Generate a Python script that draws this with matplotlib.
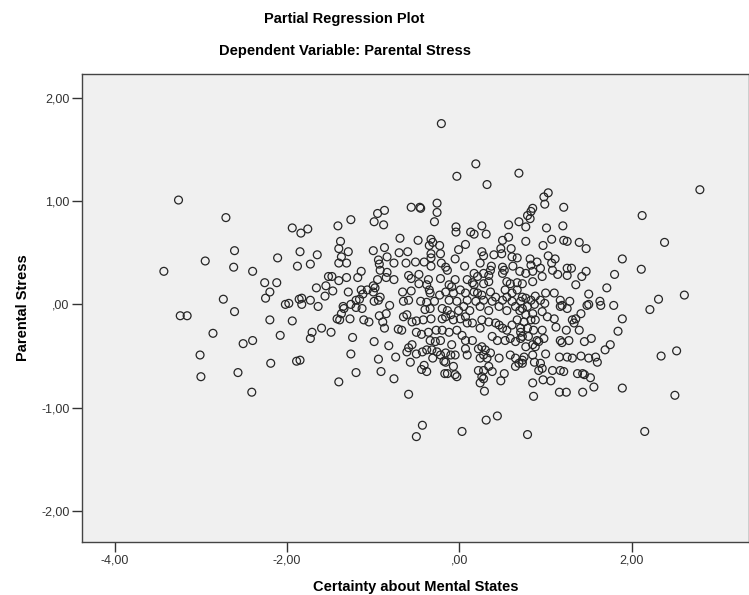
import matplotlib
matplotlib.use("Agg")
import matplotlib.pyplot as plt
from matplotlib.ticker import FuncFormatter

plt.rcParams["font.family"] = ["Liberation Sans", "DejaVu Sans"]

# partial residuals (x: certainty, y: parental stress)
left_x = [-3.26, -2.71, -2.61, -2.95, -2.62, -2.40, -2.11, -3.43, -2.26, -2.12, -2.20, -2.25, -2.74, -2.02,
          -3.24, -3.16, -2.61, -2.20, -2.86, -2.40, -2.51, -2.08, -3.01, -2.19, -2.57, -3.00, -2.41]
left_y = [1.01, 0.84, 0.52, 0.42, 0.36, 0.32, 0.45, 0.32, 0.21, 0.21, 0.12, 0.06, 0.05, 0.00,
          -0.11, -0.11, -0.07, -0.15, -0.28, -0.35, -0.38, -0.30, -0.49, -0.57, -0.66, -0.70, -0.85]

midleft_x = [-1.94, -1.84, -1.76, -1.41, -1.26, -1.38, -1.40, -1.29, -1.37, -1.40, -1.31, -1.85, -1.65, -1.88,
             -1.73, -1.52, -1.48, -1.40, -1.31, -1.18, -1.14, -1.55, -1.66, -1.47, -1.56, -1.29, -1.14, -1.12,
             -1.98, -1.86, -1.83, -1.83, -1.73, -1.64, -1.35, -1.26, -1.20, -1.16,
             -1.94, -1.71, -1.73, -1.60, -1.49, -1.42, -1.39, -1.37, -1.34, -1.27, -1.20, -1.13, -1.11, -1.24,
             -1.26, -1.20, -1.40, -1.89, -1.85]
midleft_y = [0.74, 0.69, 0.73, 0.76, 0.82, 0.61, 0.54, 0.51, 0.46, 0.40, 0.40, 0.51, 0.48, 0.37,
             0.39, 0.27, 0.27, 0.23, 0.26, 0.26, 0.32, 0.18, 0.16, 0.13, 0.08, 0.12, 0.14, 0.10,
             0.01, 0.05, 0.06, 0.00, 0.04, -0.02, -0.02, 0.00, 0.04, 0.05,
             -0.16, -0.27, -0.33, -0.23, -0.27, -0.14, -0.15, -0.09, -0.04, -0.14, -0.03, -0.04, -0.15, -0.32,
             -0.48, -0.66, -0.75, -0.55, -0.54]

center_x = [-0.21, -0.95, -0.87, -0.99, -0.88, -0.56, -0.46, -0.45, -0.26, -0.26, -0.29, -0.69, -0.48, -0.33,
            -0.31, -1.00, -0.87, -0.70, -0.60, -0.35, -0.23, -0.33, -0.22, -0.94, -0.84, -0.93, -0.76, -0.62,
            -0.51, -0.41, -0.33, -0.33, -0.21, -0.92, -0.84, -0.85, -0.76, -0.95, -1.00, -0.98, -0.59, -0.56,
            -0.47, -0.36, -0.22, -0.47, -0.38, -1.07, -1.00, -0.92, -0.66, -0.56, -0.35, -0.34, -0.23, -0.65,
            -0.59, -0.99, -0.94, -0.81, -0.45, -0.38, -0.29,
            -0.40, -0.34, -0.20, -1.05, -0.93, -0.85, -0.89, -0.87, -0.71, -0.67, -0.65, -0.61, -0.55, -0.50,
            -0.42, -0.33, -0.20, -0.50, -0.44, -0.36, -0.27, -0.99, -0.82, -0.34, -0.28, -0.22, -0.55, -0.59,
            -0.61, -0.50, -0.43, -0.38, -0.32, -0.26, -0.22, -0.94, -0.74, -0.57, -0.31, -0.18, -0.41, -0.44,
            -0.38, -0.91, -0.76, -0.17, -0.59, -0.43, -0.50]
center_y = [1.75, 0.88, 0.91, 0.80, 0.77, 0.94, 0.94, 0.93, 0.98, 0.89, 0.80, 0.64, 0.62, 0.63,
            0.60, 0.52, 0.55, 0.50, 0.51, 0.57, 0.57, 0.49, 0.49, 0.43, 0.46, 0.39, 0.40, 0.40,
            0.41, 0.41, 0.45, 0.37, 0.40, 0.33, 0.31, 0.26, 0.24, 0.24, 0.18, 0.16, 0.28, 0.25,
            0.29, 0.24, 0.25, 0.20, 0.19, 0.14, 0.12, 0.07, 0.12, 0.13, 0.14, 0.11, 0.09, 0.03,
            0.04, 0.03, 0.04, -0.01, 0.03, 0.02, 0.03,
            -0.05, -0.04, -0.04, -0.17, -0.11, -0.09, -0.17, -0.23, -0.24, -0.25, -0.12, -0.10, -0.17, -0.16,
            -0.15, -0.14, -0.14, -0.27, -0.29, -0.27, -0.25, -0.36, -0.40, -0.35, -0.36, -0.35, -0.39, -0.42,
            -0.46, -0.48, -0.46, -0.44, -0.44, -0.46, -0.49, -0.53, -0.51, -0.56, -0.52, -0.55, -0.59, -0.63,
            -0.65, -0.65, -0.72, -0.67, -0.87, -1.17, -1.28]

midright_x = [0.19, -0.03, 0.32, 0.69, -0.04, -0.04, 0.13, 0.17, 0.26, 0.31, 0.57, 0.69, 0.77,
              0.07, -0.01, -0.05, 0.26, 0.28, 0.24, 0.40, 0.50, 0.57, 0.48, 0.60, 0.49, 0.61, 0.67, 0.06,
              -0.16, -0.14, 0.37, 0.36, 0.34, 0.50, 0.52, 0.50, 0.62, 0.70, 0.17, 0.21, 0.28, -0.05, 0.09,
              -0.12, -0.09, 0.15, 0.17, 0.28, 0.34, 0.55, 0.59, 0.67, 0.73, -0.16, -0.07, 0.01, 0.07, 0.17,
              0.21, 0.26, 0.36, 0.42, 0.53, 0.55, 0.61, 0.67, 0.73, -0.12, -0.03, 0.09, 0.19, 0.28, 0.38,
              0.50, 0.61, 0.71, 0.05, 0.24, 0.46, 0.65,
              -0.14, -0.01, 0.12, 0.34, 0.55, 0.70, -0.16, -0.10, -0.07, 0.01, 0.07, 0.15, 0.09,
              0.26, 0.24, 0.34, 0.42, 0.46, 0.50, 0.55, 0.61, 0.67, 0.71, -0.20, -0.12, -0.03, 0.03, 0.07,
              0.15, 0.38, 0.44, 0.53, 0.59, 0.65, 0.71, -0.09, -0.10, -0.05, -0.16, -0.16, 0.07, 0.09,
              0.22, 0.26, 0.30, 0.28, 0.24, 0.32, 0.36, 0.46, 0.59, 0.65, 0.69, 0.73, 0.65,
              -0.07, -0.14, -0.05, -0.03, 0.22, 0.28, 0.34, 0.38, 0.26, 0.28, 0.52, 0.48, 0.24, 0.29,
              0.31, 0.44, 0.03, 0.79]
midright_y = [1.36, 1.24, 1.16, 1.27, 0.75, 0.70, 0.70, 0.68, 0.76, 0.68, 0.77, 0.80, 0.61,
              0.58, 0.53, 0.44, 0.51, 0.47, 0.40, 0.48, 0.62, 0.65, 0.54, 0.54, 0.49, 0.46, 0.45, 0.37,
              0.36, 0.33, 0.37, 0.33, 0.28, 0.36, 0.33, 0.30, 0.37, 0.32, 0.30, 0.27, 0.30, 0.24, 0.24,
              0.19, 0.17, 0.21, 0.19, 0.20, 0.22, 0.22, 0.20, 0.21, 0.20, 0.12, 0.11, 0.14, 0.11, 0.12,
              0.11, 0.09, 0.12, 0.07, 0.14, 0.07, 0.11, 0.14, 0.07, 0.04, 0.03, 0.04, 0.03, 0.04, 0.03,
              0.04, 0.03, 0.03, -0.02, -0.02, -0.02, -0.02,
              -0.06, -0.06, -0.06, -0.06, -0.06, -0.06, -0.12, -0.10, -0.15, -0.14, -0.12, -0.18, -0.18,
              -0.15, -0.23, -0.17, -0.18, -0.20, -0.23, -0.25, -0.20, -0.15, -0.23, -0.25, -0.27, -0.25, -0.30, -0.35,
              -0.35, -0.31, -0.35, -0.35, -0.33, -0.36, -0.33, -0.39, -0.49, -0.49, -0.47, -0.56, -0.43, -0.49,
              -0.43, -0.41, -0.44, -0.49, -0.52, -0.52, -0.47, -0.52, -0.49, -0.52, -0.57, -0.54, -0.60,
              -0.60, -0.67, -0.68, -0.70, -0.64, -0.64, -0.60, -0.65, -0.70, -0.72, -0.67, -0.74, -0.76, -0.84,
              -1.12, -1.08, -1.23, -1.26]

right_x = [1.03, 0.98, 0.99, 1.21, 0.85, 0.83, 0.79, 0.82, 0.77, 1.20, 1.01, 1.07, 0.97, 1.21, 1.25,
           1.39, 1.47, 0.82, 0.90, 1.03, 1.11, 1.07, 0.83, 0.85, 0.77, 0.94, 0.96, 1.08, 1.14, 1.25,
           1.30, 1.25, 1.42, 1.47, 1.35, 0.85, 1.00, 1.10, 0.77, 0.83, 0.88, 0.94, 0.99, 0.87, 1.17,
           1.19, 1.28, 1.50, 1.50, 1.63,
           0.73, 0.79, 0.77, 0.85, 0.83, 0.88, 0.75, 0.71, 0.96, 1.02, 1.10, 1.17, 1.25, 1.41, 1.35,
           1.31, 1.33, 1.48, 1.64, 1.12, 1.24, 1.39, 0.79, 0.86, 0.96, 0.73, 0.80, 0.90, 0.98, 1.17,
           1.19, 1.27, 1.45, 1.53, 0.77, 0.85, 0.92, 0.88, 0.75, 0.85, 0.87, 0.73, 1.00, 1.16, 1.25,
           1.31, 1.41, 1.50, 1.58, 1.60, 0.94, 0.96, 0.92, 1.08, 1.17, 1.21, 1.37, 1.43, 1.45, 1.52,
           1.56, 0.85, 0.97, 1.06, 0.86, 1.16, 1.24, 1.43,
           2.79, 2.12, 2.38, 1.89, 2.11, 1.80, 1.71, 1.79, 2.31, 2.61, 2.21, 1.89, 1.84, 1.75, 1.69,
           2.34, 2.52, 1.89, 2.50, 2.15]
right_y = [1.08, 1.04, 0.97, 0.94, 0.93, 0.90, 0.86, 0.83, 0.75, 0.76, 0.74, 0.63, 0.57, 0.62, 0.61,
           0.60, 0.54, 0.44, 0.41, 0.47, 0.44, 0.40, 0.38, 0.32, 0.30, 0.35, 0.27, 0.33, 0.29, 0.35,
           0.35, 0.28, 0.27, 0.32, 0.19, 0.22, 0.11, 0.11, 0.06, 0.04, 0.08, 0.04, 0.01, 0.00, 0.04,
           -0.01, 0.03, 0.10, 0.00, 0.03,
           -0.04, -0.02, -0.10, -0.09, -0.15, -0.15, -0.17, -0.27, -0.07, -0.12, -0.14, -0.02, -0.04, -0.09, -0.14,
           -0.15, -0.18, -0.01, -0.01, -0.22, -0.25, -0.25, -0.23, -0.25, -0.25, -0.31, -0.31, -0.35, -0.33, -0.35,
           -0.37, -0.35, -0.36, -0.33, -0.41, -0.39, -0.36, -0.41, -0.51, -0.49, -0.56, -0.57, -0.48, -0.51, -0.51,
           -0.52, -0.50, -0.52, -0.51, -0.56, -0.57, -0.62, -0.64, -0.64, -0.64, -0.65, -0.67, -0.67, -0.68, -0.71,
           -0.80, -0.76, -0.73, -0.74, -0.89, -0.85, -0.85, -0.85,
           1.11, 0.86, 0.60, 0.44, 0.34, 0.29, 0.16, -0.01, 0.05, 0.09, -0.05, -0.14, -0.26, -0.39, -0.44,
           -0.50, -0.45, -0.81, -0.88, -1.23]

x_ticks = [-4, -2, 0, 2]
y_ticks = [-2, -1, 0, 1, 2]


def spss_fmt(v, pos=None):
    s = f"{v:.2f}".replace(".", ",")
    if s in ("0,00", "-0,00"):
        return ",00"
    return s


xs = left_x + midleft_x + center_x + midright_x + right_x
ys = left_y + midleft_y + center_y + midright_y + right_y

fig = plt.figure(figsize=(7.49, 5.95), dpi=100)
ax = fig.add_axes([82 / 749, 1 - 542 / 595, 667 / 749, 468 / 595])
ax.set_facecolor("#f0f0f0")
ax.scatter(xs, ys, s=32, facecolors="none", edgecolors="#262626", linewidths=0.9)

ax.set_xlim(-4.38, 3.36)
ax.set_ylim(-2.30, 2.23)
ax.set_xticks(x_ticks)
ax.set_yticks(y_ticks)
ax.xaxis.set_major_formatter(FuncFormatter(spss_fmt))
ax.yaxis.set_major_formatter(FuncFormatter(spss_fmt))
ax.tick_params(direction="out", length=7, width=1, labelsize=9, colors="#333333", pad=2)
for sp in ax.spines.values():
    sp.set_color("#444444")
    sp.set_linewidth(1)

ax.set_xlabel("Certainty about Mental States", fontsize=10.5, fontweight="bold", labelpad=10)
ax.set_ylabel("Parental Stress", fontsize=10.5, fontweight="bold", labelpad=8)
fig.text(0.46, 0.968, "Partial Regression Plot", ha="center", va="center", fontsize=10.5, fontweight="bold")
fig.text(0.46, 0.915, "Dependent Variable: Parental Stress", ha="center", va="center",
         fontsize=10.5, fontweight="bold")

fig.savefig("out.png", dpi=100)
